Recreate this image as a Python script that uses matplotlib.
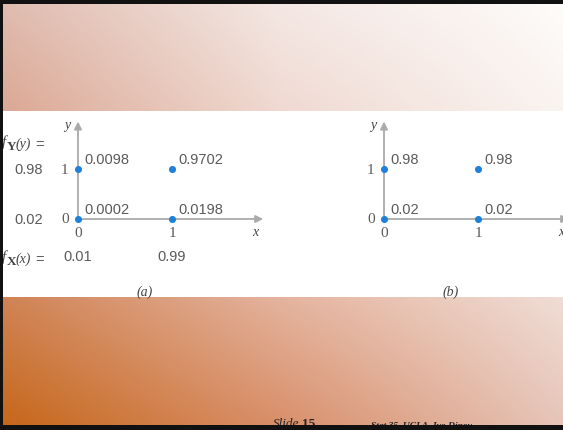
import numpy as np
import matplotlib
matplotlib.use("Agg")
import matplotlib.pyplot as plt
from matplotlib.patches import Rectangle
from matplotlib.colors import to_rgb

W, H = 563, 431
fig = plt.figure(figsize=(W / 100, H / 100), dpi=100)

# ---------------- data ----------------
x_vals = [0, 1]
y_vals = [0, 1]
# joint probabilities p(x, y) for panel (a) and (b)
joint_a = {(0, 1): "0.0098", (1, 1): "0.9702", (0, 0): "0.0002", (1, 0): "0.0198"}
joint_b = {(0, 1): "0.98", (1, 1): "0.98", (0, 0): "0.02", (1, 0): "0.02"}
marg_y = ["0.02", "0.98"]   # f_Y(0), f_Y(1)
marg_x = ["0.01", "0.99"]   # f_X(0), f_X(1)
panel_labels = ["(a)", "(b)"]

# ---------------- background ----------------
bg = fig.add_axes([0, 0, 1, 1])
bg.set_xlim(0, W)
bg.set_ylim(H, 0)
bg.axis("off")

ctrl_x = np.array([0, 280, 563])
ctrl_y = np.array([0, 215, 431])
ctrl = np.array([
    [to_rgb("#e0bcb0"), to_rgb("#f4e8e4"), to_rgb("#fefcfa")],
    [to_rgb("#d6957a"), to_rgb("#eccbc0"), to_rgb("#f6ece8")],
    [to_rgb("#c66618"), to_rgb("#d88e68"), to_rgb("#e6c4b8")],
])
gx = np.linspace(0, W, 200)
gy = np.linspace(0, H, 160)
img = np.zeros((len(gy), len(gx), 3))
for c in range(3):
    rows = np.array([np.interp(gx, ctrl_x, ctrl[r, :, c]) for r in range(3)])
    for j in range(len(gx)):
        img[:, j, c] = np.interp(gy, ctrl_y, rows[:, j])
bg.imshow(img, extent=(0, W, H, 0), aspect="auto", interpolation="bilinear", zorder=0)
bg.add_patch(Rectangle((0, 112), W, 186, facecolor="white", edgecolor="none", zorder=1))

# footer
bg.text(273, 427, "Slide", family="Liberation Serif", style="italic", fontsize=9.5,
        color="#222222", va="baseline", ha="left", zorder=2)
bg.text(302, 427, "15", family="Liberation Serif", weight="bold", fontsize=9.5,
        color="#222222", va="baseline", ha="left", zorder=2)
bg.text(371, 427, "Stat 35, UCLA, Ivo Dinov", family="Liberation Serif", style="italic",
        weight="bold", fontsize=6.8, color="#222222", va="baseline", ha="left", zorder=2)
bg.plot([371, 472], [428.2, 428.2], color="#222222", lw=0.6, zorder=2)

# marginal-function labels  f_Y(y) =  and  f_X(x) =
lab_col = "#444444"
for sub, arg, base in [("Y", "(y)", 150), ("X", "(x)", 265)]:
    bg.text(6, base - 4, "f", family="Liberation Serif", style="italic", fontsize=11,
            color=lab_col, ha="right", va="baseline", zorder=2)
    bg.text(7, base, sub, family="Liberation Serif", weight="bold", fontsize=9.5,
            color=lab_col, ha="left", va="baseline", zorder=2)
    bg.text(16, base - 2, arg, family="Liberation Serif", style="italic", fontsize=10,
            color=lab_col, ha="left", va="baseline", zorder=2)
    bg.text(35, base - 5, "=", family="Liberation Sans", fontsize=10.5,
            color="#5a5a5a", ha="left", va="center", zorder=2)

# ---------------- panels ----------------
ux, uy = 94.0, 50.0          # pixels per data unit
origin_y = 220.0
xlim = (-0.8, 2.0)
ylim = (-1.6, 2.0)
txt_col = "#5a5a5a"
axis_col = "#aaaaaa"
pt_col = "#1f80d8"
num_font = dict(family="Liberation Sans", fontsize=10.5, color=txt_col)
tick_font = dict(family="Liberation Serif", fontsize=11, color=txt_col)

def make_panel(origin_x, joint, label, with_marg):
    left = origin_x + xlim[0] * ux
    bottom_px = origin_y - ylim[0] * uy
    ax = fig.add_axes([left / W, 1 - bottom_px / H,
                       (xlim[1] - xlim[0]) * ux / W, (ylim[1] - ylim[0]) * uy / H])
    ax.set_xlim(*xlim)
    ax.set_ylim(*ylim)
    ax.axis("off")
    ax.patch.set_alpha(0)
    # axes arrows
    ax.annotate("", xy=(0, 1.95), xytext=(0, 0),
                arrowprops=dict(arrowstyle="-|>", color=axis_col, lw=1.3,
                                mutation_scale=11, shrinkA=0, shrinkB=0),
                annotation_clip=False)
    ax.annotate("", xy=(1.97, 0), xytext=(0, 0),
                arrowprops=dict(arrowstyle="-|>", color=axis_col, lw=1.3,
                                mutation_scale=11, shrinkA=0, shrinkB=0),
                annotation_clip=False)
    # points
    px = [k[0] for k in joint]
    py = [k[1] for k in joint]
    ax.scatter(px, py, s=26, color=pt_col, zorder=5, clip_on=False, linewidths=0)
    for (xi, yi), s in joint.items():
        ax.text(xi + 0.065, yi + 0.2, s, ha="left", va="center", **num_font)
    # ticks
    for yv in y_vals:
        ax.text(-0.14, yv, str(yv), ha="center", va="center", **tick_font)
    for xv in x_vals:
        ax.text(xv, -0.27, str(xv), ha="center", va="center", **tick_font)
    ax.text(-0.12, 1.9, "y", family="Liberation Serif", style="italic", fontsize=10,
            color="#444444", ha="center", va="center", clip_on=False)
    ax.text(1.89, -0.25, "x", family="Liberation Serif", style="italic", fontsize=10,
            color="#444444", ha="center", va="center", clip_on=False)
    ax.text(0.71, -1.44, label, family="Liberation Serif", style="italic", fontsize=10,
            color="#444444", ha="center", va="center")
    if with_marg:
        for yv, s in zip(y_vals, marg_y):
            ax.text(-0.52, yv, s, ha="center", va="center", **num_font)
        for xv, s in zip(x_vals, marg_x):
            ax.text(xv, -0.74, s, ha="center", va="center", **num_font)
    return ax

make_panel(78, joint_a, panel_labels[0], True)
make_panel(384, joint_b, panel_labels[1], False)

# ---------------- slide border ----------------
fig.add_artist(Rectangle((0, 1 - 5 / H), 1, 5 / H, transform=fig.transFigure,
                         facecolor="#111111", edgecolor="none", zorder=20))
fig.add_artist(Rectangle((0, 0), 1, 5 / H, transform=fig.transFigure,
                         facecolor="#111111", edgecolor="none", zorder=20))
fig.add_artist(Rectangle((0, 0), 3 / W, 1, transform=fig.transFigure,
                         facecolor="#111111", edgecolor="none", zorder=20))

fig.savefig("out.png", dpi=100)
